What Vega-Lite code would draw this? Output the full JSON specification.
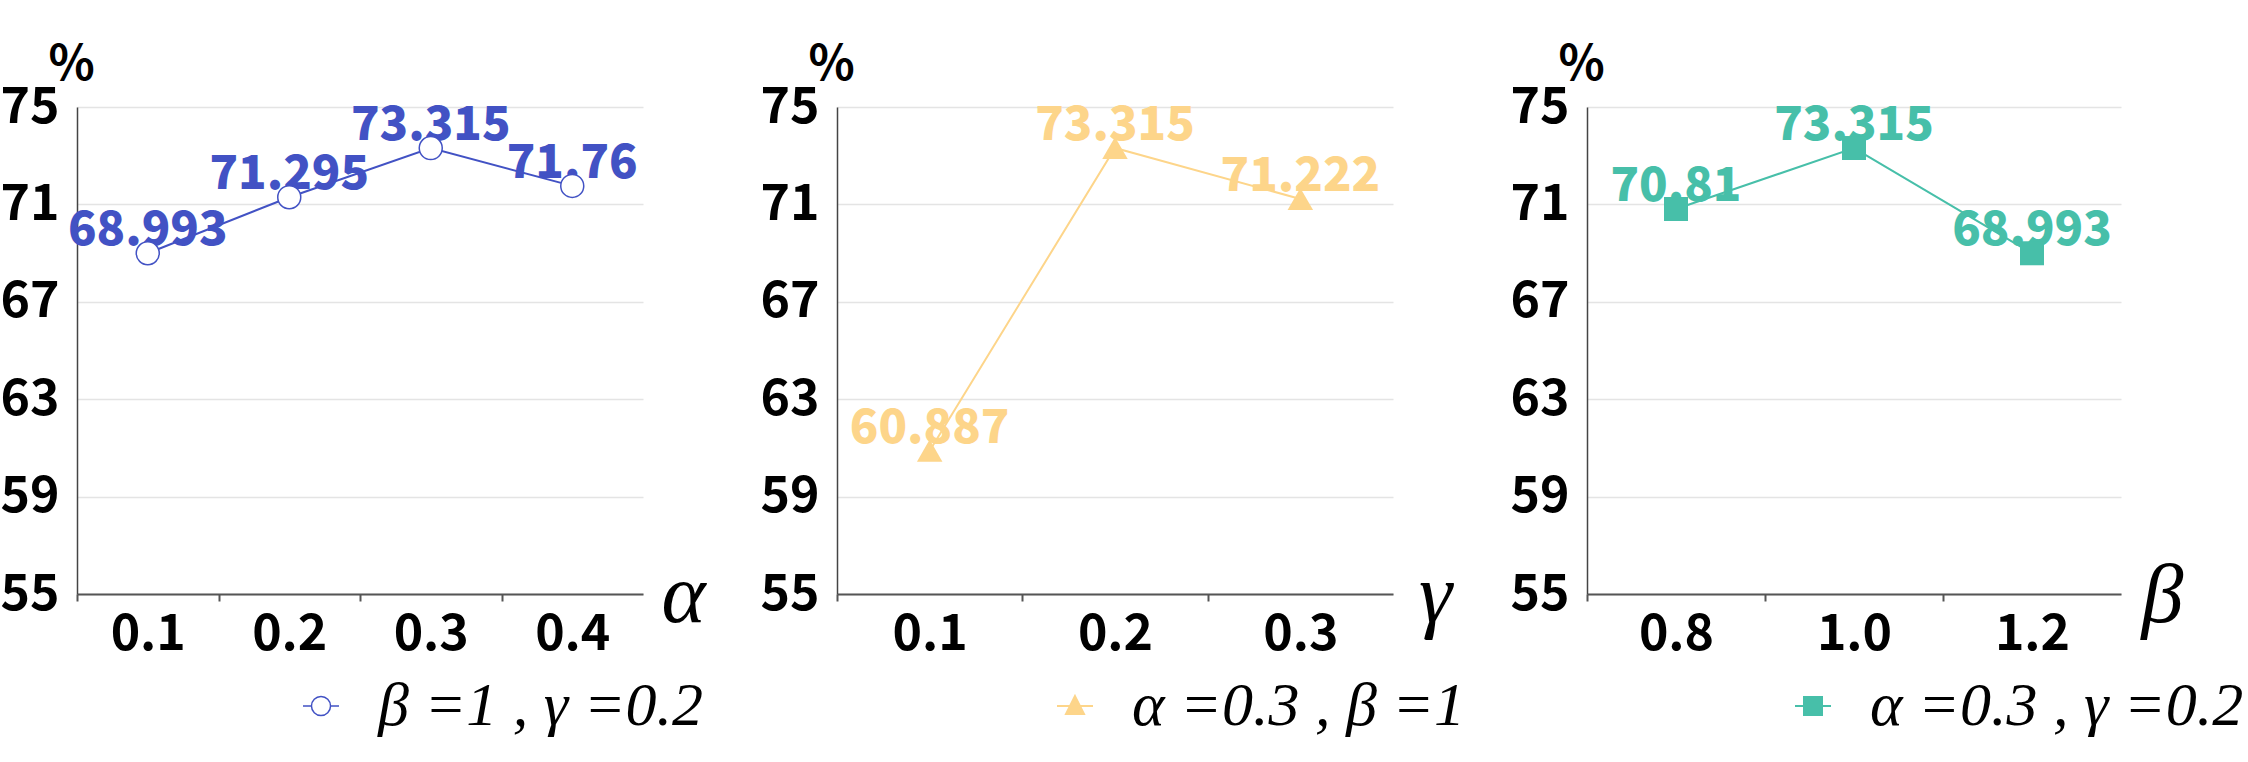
{
  "$schema": "https://vega.github.io/schema/vega-lite/v6.json",
  "background": "white",
  "padding": {"left": 0, "top": 41, "right": 0, "bottom": 0},
  "autosize": {"type": "pad"},
  "bounds": "flush",
  "spacing": 194,
  "resolve": {"scale": {"color": "independent"}, "legend": {"color": "independent"}},
  "config": {
    "view": {"stroke": null},
    "font": "Noto Sans CJK SC",
    "axis": {
      "gridColor": "#e4e4e4",
      "gridWidth": 1.5,
      "domainColor": "#555555",
      "labelFont": "Noto Sans CJK SC",
      "labelFontWeight": "bold",
      "labelColor": "#000000",
      "titleColor": "#000000"
    },
    "axisX": {
      "grid": false,
      "domainWidth": 2,
      "tickColor": "#555555",
      "tickSize": 7,
      "tickWidth": 2,
      "labelFontSize": 50,
      "labelPadding": 8,
      "labelAngle": 0,
      "titleFont": "Liberation Serif",
      "titleFontStyle": "italic",
      "titleFontWeight": "normal",
      "titleFontSize": 84,
      "titleAlign": "center",
      "titleBaseline": "alphabetic",
      "titleY": 27
    },
    "axisY": {
      "grid": true,
      "ticks": false,
      "domainWidth": 1.5,
      "domainColor": "#444444",
      "labelFontSize": 50,
      "labelPadding": 18,
      "titleFont": "Noto Sans CJK SC",
      "titleFontWeight": "bold",
      "titleFontSize": 48,
      "titleAngle": 0,
      "titleAlign": "center",
      "titleBaseline": "middle",
      "titleX": -6,
      "titleY": -42
    },
    "legend": {
      "orient": "none",
      "title": null,
      "padding": 0,
      "labelFont": "Liberation Serif",
      "labelFontStyle": "italic",
      "labelFontSize": 62,
      "labelColor": "#000000",
      "labelLimit": 0,
      "labelOffset": 26,
      "symbolSize": 1296,
      "symbolStrokeWidth": 2
    }
  },
  "datasets": {
    "alpha": [
      {"x": "0.1", "acc": 68.993, "series": "β =1 , γ =0.2"},
      {"x": "0.2", "acc": 71.295, "series": "β =1 , γ =0.2"},
      {"x": "0.3", "acc": 73.315, "series": "β =1 , γ =0.2"},
      {"x": "0.4", "acc": 71.76, "series": "β =1 , γ =0.2"}
    ],
    "gamma": [
      {"x": "0.1", "acc": 60.887, "series": "α =0.3 , β =1"},
      {"x": "0.2", "acc": 73.315, "series": "α =0.3 , β =1"},
      {"x": "0.3", "acc": 71.222, "series": "α =0.3 , β =1"}
    ],
    "beta": [
      {"x": "0.8", "acc": 70.81, "series": "α =0.3 , γ =0.2"},
      {"x": "1.0", "acc": 73.315, "series": "α =0.3 , γ =0.2"},
      {"x": "1.2", "acc": 68.993, "series": "α =0.3 , γ =0.2"}
    ]
  },
  "hconcat": [
    {
      "width": 566,
      "height": 487,
      "data": {"name": "alpha"},
      "encoding": {
        "x": {"field": "x", "type": "ordinal", "sort": null,
          "scale": {"type": "band", "paddingInner": 0, "paddingOuter": 0},
          "axis": {"title": "α", "titleX": 606, "tickOffset": -70.75, "labelOffset": 70.75}},
        "y": {"field": "acc", "type": "quantitative",
          "scale": {"domain": [55, 75], "nice": false, "zero": false},
          "axis": {"values": [55, 59, 63, 67, 71, 75], "title": "%"}}
      },
      "layer": [
        {"mark": {"type": "line", "color": "#4252C4", "strokeWidth": 2}, "encoding": {}},
        {"mark": {"type": "text", "font": "Noto Sans CJK SC", "fontSize": 47, "fontWeight": 900, "baseline": "alphabetic", "dy": -8, "color": "#4252C4"},
          "encoding": {"text": {"field": "acc", "type": "nominal"}}},
        {"mark": {"type": "point", "shape": "circle", "size": 529, "filled": false, "fill": "white", "fillOpacity": 1, "opacity": 1, "strokeWidth": 1.5},
          "encoding": {"color": {"field": "series", "type": "nominal",
            "scale": {"range": ["#4252C4"]},
            "legend": {"legendX": 213, "legendY": 568,
              "symbolType": "M-1,0L-0.53,0M0.53,0L1,0M-0.53,0A0.53,0.53 0 1,1 0.53,0A0.53,0.53 0 1,1 -0.53,0Z",
              "symbolFillColor": "white", "symbolStrokeColor": "#4252C4", "symbolStrokeWidth": 1.5}}}}
      ]
    },
    {
      "width": 556,
      "height": 487,
      "data": {"name": "gamma"},
      "encoding": {
        "x": {"field": "x", "type": "ordinal", "sort": null,
          "scale": {"type": "band", "paddingInner": 0, "paddingOuter": 0},
          "axis": {"title": "γ", "titleX": 598, "tickOffset": -92.7, "labelOffset": 92.7}},
        "y": {"field": "acc", "type": "quantitative",
          "scale": {"domain": [55, 75], "nice": false, "zero": false},
          "axis": {"values": [55, 59, 63, 67, 71, 75], "title": "%"}}
      },
      "layer": [
        {"mark": {"type": "line", "color": "#FDD58A", "strokeWidth": 2}, "encoding": {}},
        {"mark": {"type": "text", "font": "Noto Sans CJK SC", "fontSize": 47, "fontWeight": 900, "baseline": "alphabetic", "dy": -8, "color": "#FDD58A"},
          "encoding": {"text": {"field": "acc", "type": "nominal"}}},
        {"mark": {"type": "point", "shape": "triangle-up", "size": 650, "filled": true, "opacity": 1},
          "encoding": {"color": {"field": "series", "type": "nominal",
            "scale": {"range": ["#FDD58A"]},
            "legend": {"legendX": 207, "legendY": 568,
              "symbolType": "M0,-0.55L0.5,0.45L-0.5,0.45ZM-1,0L1,0",
              "symbolFillColor": "#FDD58A", "symbolStrokeColor": "#FDD58A", "symbolStrokeWidth": 2}}}}
      ]
    },
    {
      "width": 534,
      "height": 487,
      "data": {"name": "beta"},
      "encoding": {
        "x": {"field": "x", "type": "ordinal", "sort": null,
          "scale": {"type": "band", "paddingInner": 0, "paddingOuter": 0},
          "axis": {"title": "β", "titleX": 575, "tickOffset": -89, "labelOffset": 89}},
        "y": {"field": "acc", "type": "quantitative",
          "scale": {"domain": [55, 75], "nice": false, "zero": false},
          "axis": {"values": [55, 59, 63, 67, 71, 75], "title": "%"}}
      },
      "layer": [
        {"mark": {"type": "line", "color": "#47BFA9", "strokeWidth": 2}, "encoding": {}},
        {"mark": {"type": "text", "font": "Noto Sans CJK SC", "fontSize": 47, "fontWeight": 900, "baseline": "alphabetic", "dy": -8, "color": "#47BFA9"},
          "encoding": {"text": {"field": "acc", "type": "nominal"}}},
        {"mark": {"type": "point", "shape": "square", "size": 576, "filled": true, "opacity": 1},
          "encoding": {"color": {"field": "series", "type": "nominal",
            "scale": {"range": ["#47BFA9"]},
            "legend": {"legendX": 195, "legendY": 568,
              "symbolType": "M-0.5,-0.5L0.5,-0.5L0.5,0.5L-0.5,0.5ZM-1,0L1,0",
              "symbolFillColor": "#47BFA9", "symbolStrokeColor": "#47BFA9", "symbolStrokeWidth": 2}}}}
      ]
    }
  ]
}
